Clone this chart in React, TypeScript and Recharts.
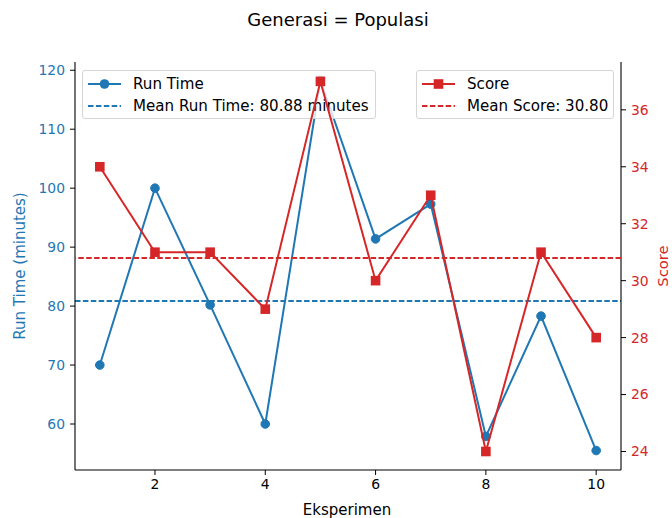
import { ComposedChart, Line, XAxis, YAxis, ReferenceLine } from "recharts"

const experiments = [1, 2, 3, 4, 5, 6, 7, 8, 9, 10]
const runTimes = [70, 100, 80.2, 60, 118.3, 91.4, 97.3, 57.9, 78.3, 55.5]
const scores = [34, 31, 31, 29, 37, 30, 33, 24, 31, 28]
const meanRunTime = 80.88
const meanScore = 30.8
const xTicks = [2, 4, 6, 8, 10]
const runTimeTicks = [60, 70, 80, 90, 100, 110, 120]
const scoreTicks = [24, 26, 28, 30, 32, 34, 36]

const data = experiments.map((x, i) => ({ x, runTime: runTimes[i], score: scores[i] }))

const BLUE = "#1f77b4"
const RED = "#d62728"
const FONT = "DejaVu Sans, Verdana, sans-serif"
const W = 672
const H = 518
const margin = { top: 62, right: 0, bottom: 0, left: 0 }

const SquareDot = (props: any) => {
  const { cx, cy, index } = props
  if (cx == null || cy == null) return null
  return <rect key={`sq-${index}`} x={cx - 4.8} y={cy - 4.8} width={9.6} height={9.6} fill={RED} />
}

const LegendBox = ({ left, width, rows }: { left: number; width: number; rows: { label: string; color: string; kind: string }[] }) => (
  <div
    style={{
      position: "absolute",
      left,
      top: 70,
      width,
      height: 49,
      boxSizing: "border-box",
      border: "1px solid #d5d5d5",
      borderRadius: 3,
      background: "rgba(255,255,255,0.8)",
      fontFamily: FONT,
      fontSize: 15.1,
      color: "#000",
    }}
  >
    {rows.map((r, i) => (
      <div key={r.label} style={{ position: "absolute", left: 0, top: 2 + i * 22, height: 22, width: "100%" }}>
        <svg width={40} height={22} style={{ position: "absolute", left: 4, top: 0 }}>
          {r.kind === "dash" ? (
            <line x1={1} y1={11} x2={34} y2={11} stroke={r.color} strokeWidth={2} strokeDasharray="5.5 2.4" />
          ) : (
            <line x1={1} y1={11} x2={34} y2={11} stroke={r.color} strokeWidth={2} />
          )}
          {r.kind === "circle" && <circle cx={17.5} cy={11} r={4.8} fill={r.color} />}
          {r.kind === "square" && <rect x={12.7} y={6.2} width={9.6} height={9.6} fill={r.color} />}
        </svg>
        <span style={{ position: "absolute", left: 50, top: 0, lineHeight: "22px", whiteSpace: "nowrap" }}>{r.label}</span>
      </div>
    ))}
  </div>
)

export default function App() {
  const tickStyle = { fontFamily: FONT, fontSize: 13.9 }
  return (
    <div style={{ position: "absolute", left: 0, top: 0, width: W, height: H, background: "#fff" }}>
      {/* main chart: axes, frame, run time */}
      <div style={{ position: "absolute", left: 0, top: 0 }}>
        <ComposedChart width={W} height={H} data={data} margin={margin}>
          <XAxis
            xAxisId="b"
            dataKey="x"
            type="number"
            domain={[0.55, 10.45]}
            ticks={xTicks}
            allowDataOverflow
            height={48}
            tickSize={5}
            tickMargin={4}
            axisLine={{ stroke: "#000", strokeWidth: 1.1 }}
            tickLine={{ stroke: "#000" }}
            tick={{ ...tickStyle, fill: "#000" }}
          />
          <XAxis xAxisId="t" orientation="top" dataKey="x" type="number" domain={[0.55, 10.45]} height={0} tick={false} tickLine={false} axisLine={{ stroke: "#000", strokeWidth: 1.1 }} />
          <YAxis
            yAxisId="left"
            orientation="left"
            type="number"
            domain={[52.2, 121.4]}
            ticks={runTimeTicks}
            allowDataOverflow
            width={75}
            tickSize={5}
            tickMargin={5}
            axisLine={{ stroke: "#000", strokeWidth: 1.1 }}
            tickLine={{ stroke: "#000" }}
            tick={{ ...tickStyle, fill: BLUE }}
          />
          <YAxis
            yAxisId="right"
            orientation="right"
            type="number"
            domain={[23.35, 37.68]}
            ticks={scoreTicks}
            allowDataOverflow
            width={51}
            tickSize={5}
            tickMargin={5}
            axisLine={{ stroke: "#000", strokeWidth: 1.1 }}
            tickLine={{ stroke: "#000" }}
            tick={{ ...tickStyle, fill: RED }}
          />
          <Line
            xAxisId="b"
            yAxisId="left"
            dataKey="runTime"
            stroke={BLUE}
            strokeWidth={2}
            dot={{ r: 4.3, fill: BLUE, stroke: BLUE, strokeWidth: 1 }}
            isAnimationActive={false}
          />
          <ReferenceLine xAxisId="b" yAxisId="left" y={meanRunTime} stroke={BLUE} strokeWidth={2} strokeDasharray="5.5 2.4" />
        </ComposedChart>
      </div>

      <LegendBox
        left={82}
        width={294}
        rows={[
          { label: "Run Time", color: BLUE, kind: "circle" },
          { label: `Mean Run Time: ${meanRunTime.toFixed(2)} minutes`, color: BLUE, kind: "dash" },
        ]}
      />

      {/* twin axis: score */}
      <div style={{ position: "absolute", left: 0, top: 0 }}>
        <ComposedChart width={W} height={H} data={data} margin={margin}>
          <XAxis xAxisId="b" dataKey="x" type="number" domain={[0.55, 10.45]} allowDataOverflow height={48} tick={false} tickLine={false} axisLine={false} />
          <YAxis yAxisId="left" orientation="left" type="number" domain={[52.2, 121.4]} width={75} tick={false} tickLine={false} axisLine={false} />
          <YAxis yAxisId="right" orientation="right" type="number" domain={[23.35, 37.68]} allowDataOverflow width={51} tick={false} tickLine={false} axisLine={false} />
          <Line
            xAxisId="b"
            yAxisId="right"
            dataKey="score"
            stroke={RED}
            strokeWidth={2}
            dot={SquareDot}
            isAnimationActive={false}
          />
          <ReferenceLine xAxisId="b" yAxisId="right" y={meanScore} stroke={RED} strokeWidth={2} strokeDasharray="5.5 2.4" />
        </ComposedChart>
      </div>

      <LegendBox
        left={416}
        width={198}
        rows={[
          { label: "Score", color: RED, kind: "square" },
          { label: `Mean Score: ${meanScore.toFixed(2)}`, color: RED, kind: "dash" },
        ]}
      />

      <svg width={W} height={H} style={{ position: "absolute", left: 0, top: 0, pointerEvents: "none" }}>
        <text x={338} y={19} textAnchor="middle" dominantBaseline="central" fontFamily={FONT} fontSize={18} fill="#000">
          Generasi = Populasi
        </text>
        <text x={347} y={510} textAnchor="middle" dominantBaseline="central" fontFamily={FONT} fontSize={15} fill="#000">
          Eksperimen
        </text>
        <text x={20} y={266} textAnchor="middle" dominantBaseline="central" fontFamily={FONT} fontSize={15} fill={BLUE} transform="rotate(-90 20 266)">
          Run Time (minutes)
        </text>
        <text x={662} y={266} textAnchor="middle" dominantBaseline="central" fontFamily={FONT} fontSize={14.8} fill={RED} transform="rotate(-90 662 266)">
          Score
        </text>
      </svg>
    </div>
  )
}
